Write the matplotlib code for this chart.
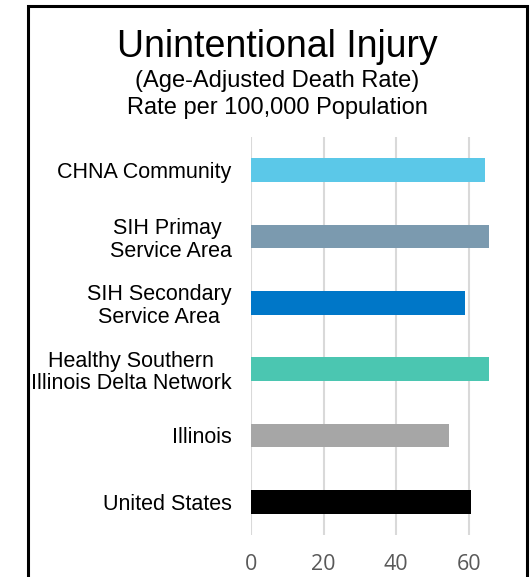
import matplotlib.pyplot as plt
from matplotlib.patches import Rectangle

plt.rcParams["font.family"] = ["Liberation Sans", "DejaVu Sans"]

categories = ["CHNA Community", "SIH Primay \nService Area", "SIH Secondary\nService Area",
              "Healthy Southern\nIllinois Delta Network", "Illinois", "United States"]
rates = [64.6, 65.7, 58.9, 65.7, 54.7, 60.5]
colors = ["#5BC8E8", "#7B9AAF", "#0077C8", "#4BC6B1", "#A6A6A6", "#000000"]
ticks = [0, 20, 40, 60]

fig = plt.figure(figsize=(5.31, 5.77), dpi=100)
ax = fig.add_axes([251 / 531, 1 - 535 / 577, 254 / 531, 398 / 577])

ypos = list(range(len(categories)))
ax.barh(ypos, rates, height=0.36, color=colors, zorder=2)
ax.set_ylim(len(categories) - 0.5, -0.5)
ax.set_xlim(0, 70)
ax.set_xticks(ticks)
ax.set_xticklabels([str(t) for t in ticks], fontsize=15.5, color="#595959",
                   family=["Open Sans", "DejaVu Sans"])
ax.set_yticks(ypos)
ax.set_yticklabels(categories, fontsize=15.5, multialignment="center", linespacing=1.1)
ax.tick_params(axis="both", length=0)
ax.tick_params(axis="x", pad=14)
ax.tick_params(axis="y", pad=14)
ax.grid(axis="x", color="#D9D9D9", lw=1.5, zorder=0)
for s in ax.spines.values():
    s.set_visible(False)

cx = 277.5 / 531
fig.text(cx, 1 - 47 / 577, "Unintentional Injury", ha="center", va="center", fontsize=27)
fig.text(cx, 1 - 81 / 577, "(Age-Adjusted Death Rate)", ha="center", va="center", fontsize=17)
fig.text(cx, 1 - 108 / 577, "Rate per 100,000 Population", ha="center", va="center", fontsize=17)

# frame around the chart (bottom runs off the image)
fig.patches.append(Rectangle((28 / 531, -0.05), 499 / 531, 1.05 - 6 / 577,
                             transform=fig.transFigure, fill=False, ec="black", lw=2.2))

fig.savefig("out.png", dpi=100)
